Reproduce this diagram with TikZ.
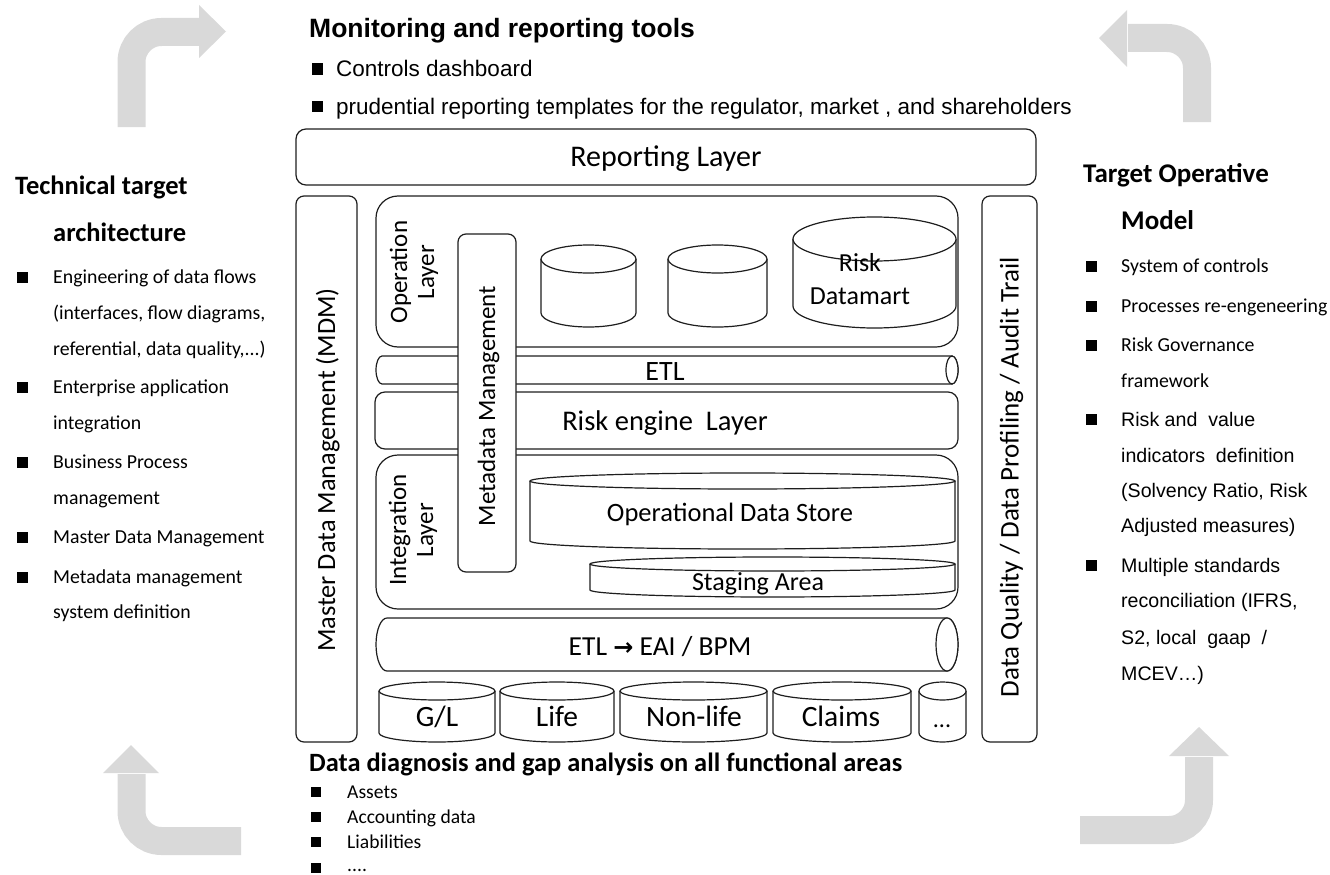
\documentclass[tikz,border=0pt]{standalone}
\usepackage{fontspec}
\setmainfont{Carlito}
\newfontfamily\arialf{Liberation Sans}
\newfontfamily\symf{DejaVu Sans}
\newcommand\fs[1]{\fontsize{#1}{#1}\selectfont}
\definecolor{arrowgray}{HTML}{D9D9D9}
\definecolor{edge}{HTML}{1E1E1E}

% vertical cylinder: x-left, x-right, y-top, y-bottom (pixels, downwards), ellipse half-height
\newcommand\vcyl[5]{%
  \draw[box] ({#1},{-(#3+#5)}) -- ({#1},{-(#4-#5)})
    arc[start angle=180,end angle=360,x radius={(#2-#1)/2},y radius={#5}]
    -- ({#2},{-(#3+#5)});
  \draw[box] ({(#1+#2)/2},{-(#3+#5)}) ellipse[x radius={(#2-#1)/2},y radius={#5}];
}
% horizontal cylinder: x-left, x-right, y-top, y-bottom, ellipse half-width
\newcommand\hcyl[5]{%
  \draw[box] ({#1+#5},{-#3})
    arc[start angle=90,end angle=270,x radius={#5},y radius={(#4-#3)/2}]
    -- ({#2-#5},{-#4})
    arc[start angle=-90,end angle=90,x radius={#5},y radius={(#4-#3)/2}]
    -- cycle;
  \draw[box] ({#2-#5},{-(#3+#4)/2}) ellipse[x radius={#5},y radius={(#4-#3)/2}];
}

\tikzset{
  box/.style={draw=edge, line width=1.2pt, fill=white},
  lbl/.style={inner sep=0pt, anchor=base},
  txt/.style={anchor=base west, inner sep=0pt},
  bul/.style={fill=black, minimum size=11pt, inner sep=0pt},
  sbul/.style={fill=black, minimum size=10pt, inner sep=0pt},
  garrow/.style={draw=arrowgray, line width=28pt, rounded corners=30pt},
  ghead/.style={fill=arrowgray},
}

\begin{document}
\begin{tikzpicture}[x=1pt,y=1pt]
\path[use as bounding box] (0,0) rectangle (1330,-875);

% grey cycle arrows in the four corners
\draw[garrow] (131.5,-127) -- (131.5,-32) -- (200,-32);
\fill[ghead] (199,-5) -- (226,-31.5) -- (199,-58) -- cycle;
\draw[garrow] (1197,-122) -- (1197,-38) -- (1128,-38);
\fill[ghead] (1127,-10) -- (1099,-38) -- (1127,-67) -- cycle;
\draw[garrow] (241,-841) -- (131.5,-841) -- (131.5,-774);
\fill[ghead] (103,-773) -- (131,-745) -- (159,-773) -- cycle;
\draw[garrow] (1080,-830) -- (1199,-830) -- (1199,-757);
\fill[ghead] (1169,-756) -- (1199,-727) -- (1229,-756) -- cycle;

% reporting layer
\draw[box, rounded corners=10pt] (296,-129) rectangle (1036,-185);
\node[lbl, font=\fs{30}] (rep) at (666,-166.5) {Reporting Layer};

% side pillars
\draw[box, rounded corners=8pt] (296,-196) rectangle (357,-742);
\node[lbl, rotate=90, font=\fs{26.3}] (mdm) at (335,-470) {Master Data Management (MDM)};
\draw[box, rounded corners=8pt] (982,-196) rectangle (1037,-742);
\node[lbl, rotate=90, font=\fs{27}] (dq) at (1018.5,-477) {Data Quality / Data Profiling / Audit Trail};

% operation layer
\draw[box, rounded corners=22pt] (376,-196) rectangle (958,-347);
\node[rotate=90, align=center, inner sep=0pt, font=\fontsize{25}{27}\selectfont] (opl) at (414,-272) {Operation\\Layer};
\vcyl{541}{636}{245}{327}{14}
\vcyl{668}{767}{245}{327}{14}
\vcyl{793}{956}{217}{328}{22}
\node[align=center, inner sep=0pt, font=\fontsize{26}{33}\selectfont] (rdm) at (860,-279) {Risk\\Datamart};

% ETL pipe
\hcyl{376}{958}{356}{384}{6}
\node[lbl, font=\fs{28}] (etl) at (665,-380) {ETL};

% risk engine
\draw[box, rounded corners=10pt] (375,-392) rectangle (958,-449);
\node[lbl, font=\fs{28.5}] (reng) at (665,-430) {Risk engine\ \ Layer};

% integration layer
\draw[box, rounded corners=22pt] (376,-455) rectangle (958,-609);
\node[rotate=90, align=center, inner sep=0pt, font=\fontsize{25}{27}\selectfont] (intl) at (413,-530) {Integration\\Layer};
\vcyl{530}{955}{473}{549}{8}
\node[lbl, font=\fs{26.5}] (ods) at (730,-521.5) {Operational Data Store};
\vcyl{590}{955}{557}{597}{7}
\node[lbl, font=\fs{26}] (stg) at (758,-590.5) {Staging Area};

% metadata management column
\draw[box, rounded corners=8pt] (458,-234) rectangle (516,-572);
\node[lbl, rotate=90, font=\fs{25}] (meta) at (495,-406) {Metadata Management};

% ETL -> EAI / BPM pipe
\hcyl{376}{958}{618}{671}{11}
\node[lbl, font=\fs{27.5}] (eai) at (660,-655) {ETL {\symf\bfseries\fs{24}→} EAI / BPM};

% source systems
\vcyl{379}{495}{682}{742}{9}
\node[lbl, font=\fs{29.5}] (gl) at (437,-726.5) {G/L};
\vcyl{500}{614}{682}{742}{9}
\node[lbl, font=\fs{29.5}] (life) at (557,-726.5) {Life};
\vcyl{620}{767}{682}{742}{9}
\node[lbl, font=\fs{29.5}] (nonlife) at (694,-726.5) {Non-life};
\vcyl{773}{911}{682}{742}{9}
\node[lbl, font=\fs{29.5}] (claims) at (841,-726.5) {Claims};
\vcyl{919}{966}{682}{742}{9}
\node[lbl, font=\fs{24}] (more) at (942,-727) {...};

% monitoring and reporting tools
\node[txt, font=\arialf\bfseries\fs{26.5}] (mon) at (309,-37.5) {Monitoring and reporting tools};
\node[bul] (mb1) at (317,-69) {};
\node[txt, font=\arialf\fs{22.5}] (mt1) at (336,-77) {Controls dashboard};
\node[bul] (mb2) at (317,-106) {};
\node[txt, font=\arialf\fs{22.5}] (mt2) at (336,-114) {prudential reporting templates for the regulator, market , and shareholders};

% technical target architecture
\node[txt, font=\bfseries\fs{26.5}] (tta1) at (15,-194.5) {Technical target};
\node[txt, font=\bfseries\fs{26.5}] (tta2) at (53,-241.5) {architecture};
\foreach \y in {277,387,462,537,577} \node[bul] at (22,-\y) {};
\node[txt, font=\fs{19.8}] (l1) at (53,-283) {Engineering of data flows};
\node[txt, font=\fs{19.8}] (l2) at (53,-319) {(interfaces, flow diagrams,};
\node[txt, font=\fs{19.8}] (l3) at (53,-355) {referential, data quality,...)};
\node[txt, font=\fs{19.8}] (l4) at (53,-393) {Enterprise application};
\node[txt, font=\fs{19.8}] (l5) at (53,-429) {integration};
\node[txt, font=\fs{19.8}] (l6) at (53,-468) {Business Process};
\node[txt, font=\fs{19.8}] (l7) at (53,-504) {management};
\node[txt, font=\fs{19.8}] (l8) at (53,-543) {Master Data Management};
\node[txt, font=\fs{19.8}] (l9) at (53,-583) {Metadata management};
\node[txt, font=\fs{19.8}] (l10) at (53,-618) {system definition};

% target operative model
\node[txt, font=\bfseries\fs{27}] (tom1) at (1083,-182.5) {Target Operative};
\node[txt, font=\bfseries\fs{27}] (tom2) at (1121,-229.5) {Model};
\foreach \y in {266,306,345,419,565} \node[bul] at (1091,-\y) {};
\node[txt, font=\fs{19.8}] (r1) at (1121,-272) {System of controls};
\node[txt, font=\fs{19.8}] (r2) at (1121,-312) {Processes re-engeneering};
\node[txt, font=\fs{19.8}] (r3) at (1121,-351) {Risk Governance};
\node[txt, font=\fs{19.8}] (r4) at (1121,-387) {framework};
\node[txt, font=\arialf\fs{19.6}] (r5) at (1121,-426) {Risk and\ \ value};
\node[txt, font=\arialf\fs{19.6}] (r6) at (1121,-462) {indicators\ \ definition};
\node[txt, font=\arialf\fs{19.6}] (r7) at (1121,-497) {(Solvency Ratio, Risk};
\node[txt, font=\arialf\fs{19.6}] (r8) at (1121,-532) {Adjusted measures)};
\node[txt, font=\arialf\fs{19.6}] (r9) at (1121,-572) {Multiple standards};
\node[txt, font=\arialf\fs{19.6}] (r10) at (1121,-607) {reconciliation (IFRS,};
\node[txt, font=\arialf\fs{19.6}] (r11) at (1121,-644) {S2, local\ \ gaap\ \ /};
\node[txt, font=\arialf\fs{19.6}] (r12) at (1121,-680) {MCEV…)};

% data diagnosis
\node[txt, font=\bfseries\fs{26.4}] (dd) at (309,-771.5) {Data diagnosis and gap analysis on all functional areas};
\foreach \y in {792,817,842,868} \node[sbul] at (316,-\y) {};
\node[txt, font=\fs{19.6}] (d1) at (347,-798) {Assets};
\node[txt, font=\fs{19.6}] (d2) at (347,-823) {Accounting data};
\node[txt, font=\fs{19.6}] (d3) at (347,-848) {Liabilities};
\node[txt, font=\fs{19.6}] (d4) at (347,-871) {....};
\end{tikzpicture}
\end{document}
